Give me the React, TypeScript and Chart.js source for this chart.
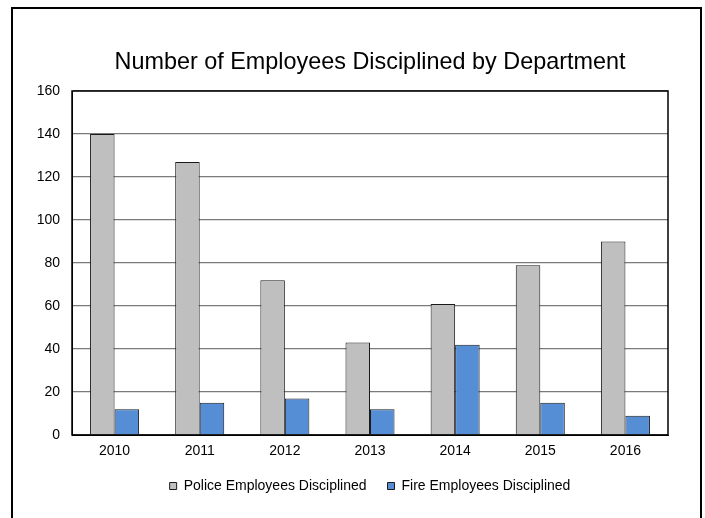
import React, { useEffect, useRef } from "react";
import { Chart, registerables } from "chart.js";

Chart.register(...registerables);

const years = ["2010", "2011", "2012", "2013", "2014", "2015", "2016"];
const policeDisciplined = [140, 127, 72, 43, 61, 79, 90];
const fireDisciplined = [12, 15, 17, 12, 42, 15, 9];
const seriesNames = ["Police Employees Disciplined", "Fire Employees Disciplined"];
const chartTitle = "Number of Employees Disciplined by Department";

const plotFrame = {
  id: "plotFrame",
  afterDraw(chart: any) {
    const { ctx, chartArea } = chart;
    ctx.save();
    ctx.strokeStyle = "#000";
    ctx.lineWidth = 1.5;
    ctx.strokeRect(
      Math.round(chartArea.left),
      Math.round(chartArea.top),
      Math.round(chartArea.right - chartArea.left),
      Math.round(chartArea.bottom - chartArea.top)
    );
    ctx.restore();
  },
};

const CANVAS_W = 712;
const CANVAS_H = 518;

export default function App() {
  const ref = useRef<HTMLCanvasElement | null>(null);

  useEffect(() => {
    if (!ref.current) return;
    const font = "'Liberation Sans', Arial, sans-serif";
    const chart = new Chart(ref.current, {
      type: "bar",
      data: {
        labels: years,
        datasets: [
          {
            label: seriesNames[0],
            data: policeDisciplined,
            backgroundColor: "#BFBFBF",
            borderColor: "#1a1a1a",
            borderWidth: 1,
          },
          {
            label: seriesNames[1],
            data: fireDisciplined,
            backgroundColor: "#558ED5",
            borderColor: "#1a1a1a",
            borderWidth: 1,
          },
        ],
      },
      options: {
        animation: false,
        responsive: false,
        maintainAspectRatio: false,
        color: "#000",
        font: { family: font, size: 14 },
        layout: { padding: { left: 28, right: 0, top: 0, bottom: 15 } },
        datasets: {
          bar: { categoryPercentage: 0.576, barPercentage: 1 },
        },
        plugins: {
          title: {
            display: true,
            text: chartTitle,
            color: "#000",
            font: { family: font, size: 23.4, weight: "normal" },
            padding: { top: 49, bottom: 14 },
          },
          legend: {
            position: "bottom",
            labels: {
              color: "#000",
              font: { family: font, size: 14 },
              boxWidth: 7,
              boxHeight: 7,
              padding: 21,
            },
          },
          tooltip: { enabled: false },
        },
        scales: {
          x: {
            afterFit(scale: any) {
              scale.height = 23;
            },
            grid: { display: false, drawTicks: false },
            border: { display: true, color: "#000", width: 1 },
            ticks: { color: "#000", font: { family: font, size: 14 }, padding: 8 },
          },
          y: {
            min: 0,
            max: 160,
            afterFit(scale: any) {
              scale.width = 44;
            },
            grid: { color: "#7a7a7a", lineWidth: 1.3, drawTicks: false },
            border: { display: true, color: "#000", width: 1 },
            ticks: {
              stepSize: 20,
              color: "#000",
              font: { family: font, size: 14 },
              padding: 12,
            },
          },
          spacer: {
            type: "linear",
            position: "right",
            display: true,
            afterFit(scale: any) {
              scale.width = 44;
            },
            grid: { display: false, drawTicks: false },
            border: { display: false },
            ticks: { display: false },
          },
        },
      },
      plugins: [plotFrame],
    });
    return () => chart.destroy();
  }, []);

  return (
    <div
      style={{
        position: "fixed",
        left: 0,
        top: 0,
        width: 705,
        height: 518,
        overflow: "hidden",
        background: "#fff",
      }}
    >
      <div
        style={{
          position: "absolute",
          left: 11,
          top: 7,
          width: 691,
          height: 540,
          border: "2px solid #000",
          boxSizing: "border-box",
        }}
      />
      <canvas
        ref={ref}
        width={CANVAS_W}
        height={CANVAS_H}
        style={{ position: "absolute", left: 0, top: 0, width: CANVAS_W, height: CANVAS_H }}
      />
    </div>
  );
}
